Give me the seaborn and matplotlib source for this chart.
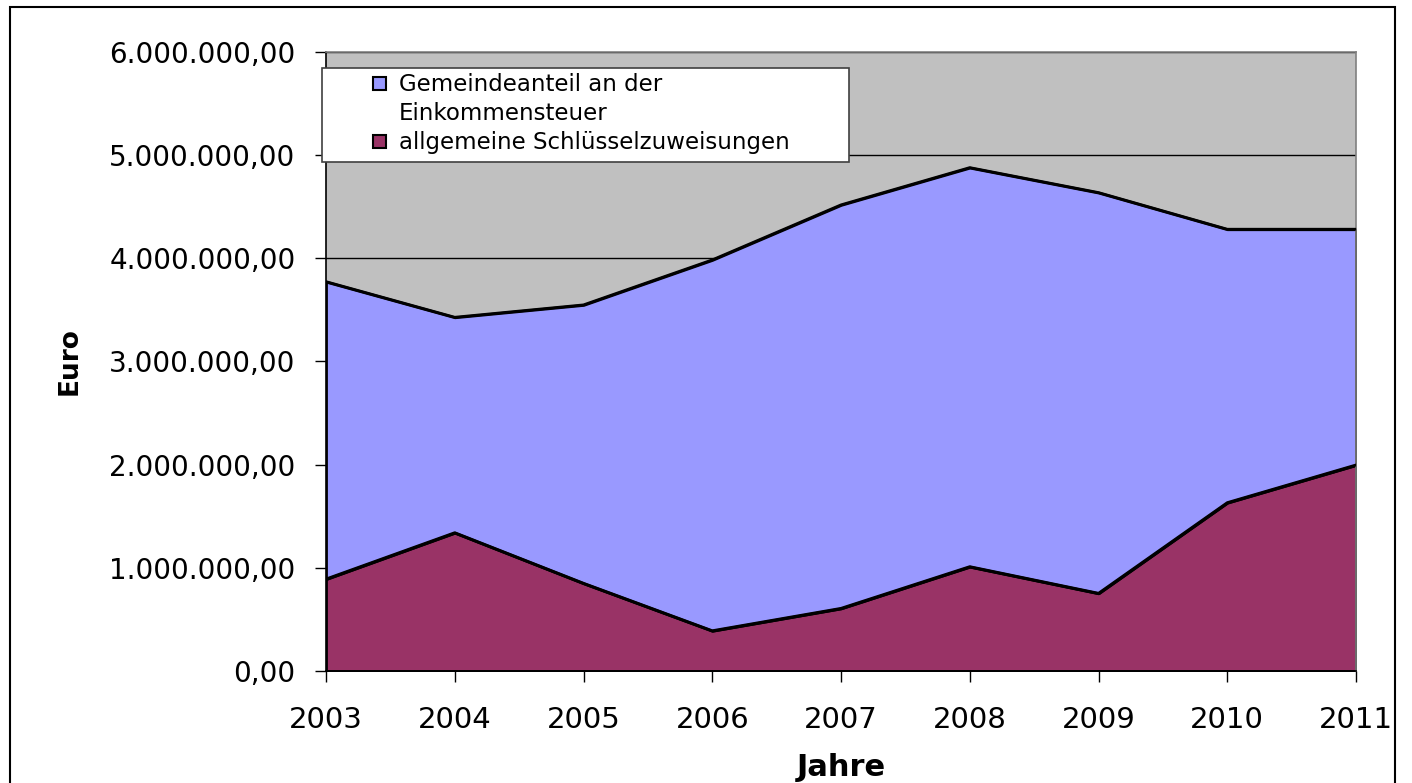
import numpy as np
import pandas as pd
import matplotlib
matplotlib.use("Agg")
import matplotlib.pyplot as plt
from matplotlib.patches import Rectangle, Patch
from matplotlib.legend_handler import HandlerPatch
from matplotlib.ticker import FuncFormatter, MultipleLocator
import seaborn as sns

# ---- data ----
years = ["2003", "2004", "2005", "2006", "2007", "2008", "2009", "2010", "2011"]
schluesselzuweisungen = [891000, 1340000, 850000, 390000, 607000, 1011000, 753000, 1631000, 1996000]
einkommensteuer = [2881000, 2087000, 2697000, 3593000, 3909000, 3866000, 3882000, 2649000, 2284000]
series_labels = ["Gemeindeanteil an der\nEinkommensteuer", "allgemeine Schlüsselzuweisungen"]
x_title = "Jahre"
y_title = "Euro"

sns.set_theme(style="white")
plt.rcParams["font.family"] = ["DejaVu Sans"]
plt.rcParams["text.color"] = "black"

W, H = 1412, 783
fig = plt.figure(figsize=(W / 100, H / 100), dpi=100)
fig.patch.set_facecolor("white")

ax_l, ax_r, ax_t, ax_b = 326, 1356, 51.7, 671
ax = fig.add_axes([ax_l / W, 1 - ax_b / H, (ax_r - ax_l) / W, (ax_b - ax_t) / H])
ax.set_facecolor("#C0C0C0")

xpos = np.arange(len(years))
bottom = np.array(schluesselzuweisungen, dtype=float)
top = bottom + np.array(einkommensteuer, dtype=float)

ax.stackplot(xpos, schluesselzuweisungen, einkommensteuer,
             colors=["#993366", "#9999FF"], edgecolor="black", linewidth=2, zorder=2)

df = pd.DataFrame({"x": np.concatenate([xpos, xpos]),
                   "y": np.concatenate([bottom, top]),
                   "s": ["b"] * len(xpos) + ["t"] * len(xpos)})
sns.lineplot(data=df, x="x", y="y", units="s", estimator=None, color="black",
             linewidth=2, ax=ax, zorder=3, legend=False)

ax.set_xlim(0, len(years) - 1)
ax.set_ylim(0, 6000000)
ax.yaxis.set_major_locator(MultipleLocator(1000000))
ax.set_xticks(xpos)
ax.set_xticklabels(years)


def de_fmt(v, pos):
    s = f"{v:,.2f}"
    return s.replace(",", "X").replace(".", ",").replace("X", ".")


ax.yaxis.set_major_formatter(FuncFormatter(de_fmt))

ax.grid(axis="y", color="black", linewidth=1, zorder=1)
ax.grid(axis="x", visible=False)
ax.set_axisbelow(True)

for side in ["top", "right"]:
    ax.spines[side].set_color("#808080")
    ax.spines[side].set_linewidth(1.2)
for side in ["left", "bottom"]:
    ax.spines[side].set_color("black")
    ax.spines[side].set_linewidth(1.2)

ax.tick_params(axis="y", left=True, length=8, width=1, color="black", pad=14,
               labelsize=20, labelcolor="black")
ax.tick_params(axis="x", bottom=True, length=8, width=1, color="black", pad=17,
               labelsize=21, labelcolor="black")

ax.set_xlabel(x_title, fontsize=22, fontweight="bold", color="black", labelpad=14)
ax.set_ylabel(y_title, fontsize=19, fontweight="bold", color="black", labelpad=19)

# outer chart border
fig.add_artist(Rectangle((10 / W, -0.02), (1395 - 10) / W, 1.02 - 7 / H,
                         transform=fig.transFigure, facecolor="none",
                         edgecolor="black", linewidth=1.5, zorder=0))

# legend frame
fig.add_artist(Rectangle((322 / W, 1 - 161.7 / H), (849 - 322) / W, (161.7 - 67.7) / H,
                         transform=fig.transFigure, facecolor="white",
                         edgecolor="#404040", linewidth=1.2, zorder=4))


def square_patch(legend, orig_handle, xdescent, ydescent, width, height, fontsize):
    return Rectangle((-xdescent, -ydescent + 0.3), width, width)


handles = [Patch(facecolor="#9999FF", edgecolor="black", linewidth=1.5),
           Patch(facecolor="#993366", edgecolor="black", linewidth=1.5)]
fs = 16.5
leg = fig.legend(handles, series_labels, loc="upper left",
                 bbox_to_anchor=(373 / W, 1 - 73 / H), frameon=False,
                 borderpad=0, borderaxespad=0, fontsize=fs,
                 handlelength=0.58, handleheight=0.78, handletextpad=0.56,
                 labelspacing=0.25, labelcolor="black",
                 handler_map={Patch: HandlerPatch(patch_func=square_patch)})
leg.set_zorder(5)
for t in leg.get_texts():
    t.set_linespacing(1.35)
for col in leg._legend_handle_box.get_children():
    for item in col.get_children():
        item.align = "top"

fig.savefig("out.png", dpi=100, facecolor="white")
